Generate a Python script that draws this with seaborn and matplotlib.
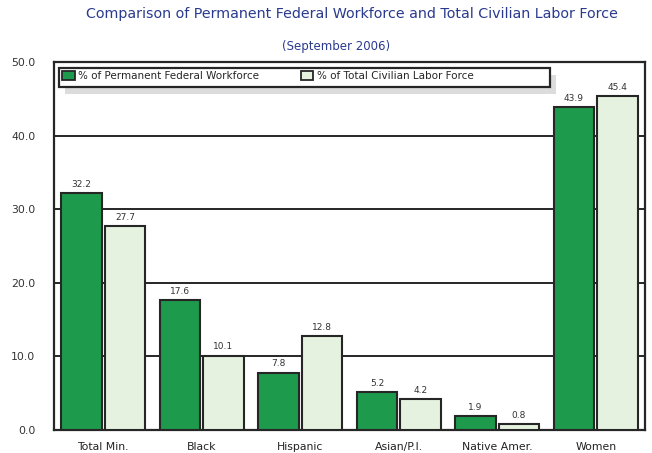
import matplotlib.pyplot as plt
import pandas as pd
import seaborn as sns
from matplotlib.patches import Rectangle

categories = ['Total Min.', 'Black', 'Hispanic', 'Asian/P.I.', 'Native Amer.', 'Women']
federal = [32.2, 17.6, 7.8, 5.2, 1.9, 43.9]
civilian = [27.7, 10.1, 12.8, 4.2, 0.8, 45.4]
series = ['% of Permanent Federal Workforce', '% of Total Civilian Labor Force']
yticks = [0, 10, 20, 30, 40, 50]

df = pd.DataFrame({
    'Group': categories * 2,
    'Value': federal + civilian,
    'Series': [series[0]] * len(categories) + [series[1]] * len(categories),
})

sns.set_style('white')
plt.rcParams['font.family'] = ['DejaVu Sans']

fig = plt.figure(figsize=(6.52, 4.53), dpi=100)
ax = fig.add_axes([0.0828, 0.0508, 0.9064, 0.8124])

sns.barplot(data=df, x='Group', y='Value', hue='Series', order=categories,
            hue_order=series, palette=['#1e9a4c', '#e6f2e0'], width=0.88, gap=0.06,
            edgecolor='#262626', linewidth=1.5, saturation=1, ax=ax, zorder=3)

for c in ax.containers:
    ax.bar_label(c, fmt='%.1f', padding=3, fontsize=6.5, color='#333333')

ax.set_ylim(0, 50)
ax.set_xlim(-0.5, 5.5)
ax.set_yticks(yticks)
ax.set_yticklabels([f'{v:.1f}' for v in yticks], fontsize=7.8, color='#333333')
ax.tick_params(axis='y', left=False, pad=10)
ax.tick_params(axis='x', bottom=False, labelsize=7.8, colors='#222222', pad=5)
ax.set_xlabel('')
ax.set_ylabel('')
ax.yaxis.grid(True, color='#262626', linewidth=1.4)
ax.set_axisbelow(True)
for s in ax.spines.values():
    s.set_visible(True)
    s.set_color('#262626')
    s.set_linewidth(1.6)

# legend box with a soft shadow
x0, x1, y0, y1 = 0.0085, 0.839, 0.932, 0.984
ax.add_patch(Rectangle((x0 + 0.01, y0 - 0.02), x1 - x0, y1 - y0, transform=ax.transAxes,
                       facecolor='#dcdcdc', edgecolor='none', zorder=4))
ax.add_patch(Rectangle((x0, y0), x1 - x0, y1 - y0, transform=ax.transAxes,
                       facecolor='white', edgecolor='#262626', linewidth=1.6, zorder=4.5))
leg = ax.legend(loc='upper left', bbox_to_anchor=(x0, y1), borderaxespad=0,
                ncol=2, fontsize=7.5, frameon=False, borderpad=0.3,
                handlelength=1.2, handleheight=1.0, handletextpad=0.35,
                columnspacing=4.0)
leg.set_zorder(5)
for h in leg.legend_handles:
    h.set_edgecolor('#262626')
    h.set_linewidth(1.3)

fig.text(0.54, 0.969, 'Comparison of Permanent Federal Workforce and Total Civilian Labor Force',
         ha='center', va='center', fontsize=10.3, color='#2a3a8e')
fig.text(0.515, 0.898, '(September 2006)', ha='center', va='center', fontsize=8.5, color='#2a3a8e')

fig.savefig('out.png', dpi=100)
